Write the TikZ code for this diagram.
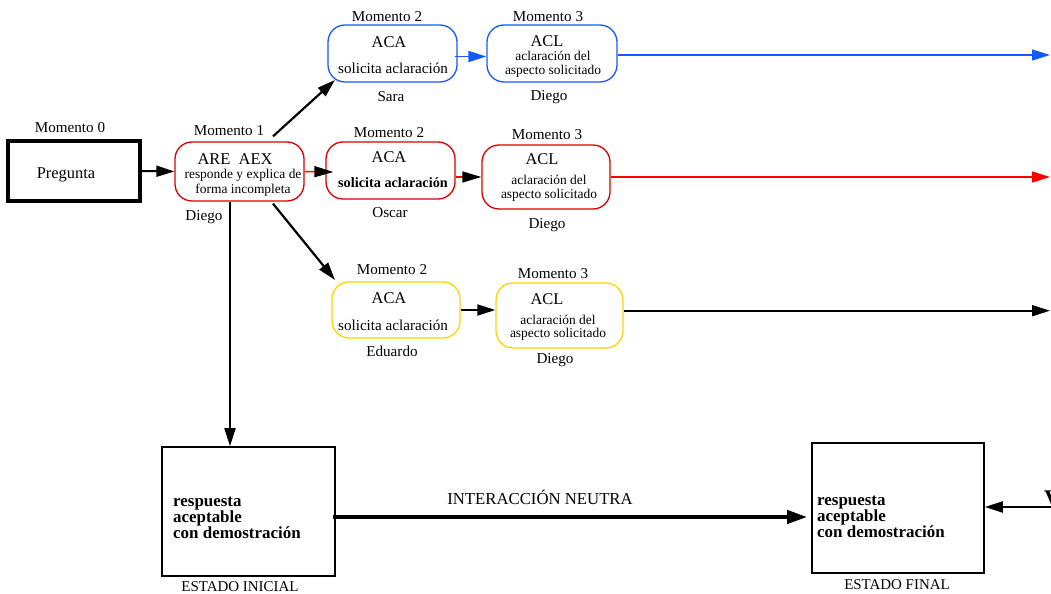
\documentclass[tikz,border=0pt]{standalone}
\usepackage{fontspec}
\setmainfont{Liberation Serif}
\usetikzlibrary{arrows.meta}
\definecolor{cblue}{RGB}{20,90,255}
\definecolor{cred}{RGB}{215,0,0}
\definecolor{lred}{RGB}{255,0,0}
\definecolor{cyel}{RGB}{255,212,0}
\newcommand{\fsz}[1]{\fontsize{#1}{#1}\selectfont}
\tikzset{
  lbl/.style={inner sep=0pt, font=\fsz{15.2}},
  big/.style={inner sep=0pt, font=\fsz{16.5}},
  sml/.style={inner sep=0pt, font=\fsz{13.5}, align=center},
  rbox/.style={draw, rounded corners=17bp, line width=1.3bp, inner sep=0pt},
  sqbox/.style={draw, line width=1.6bp, inner sep=0pt},
  arr/.style={-{Triangle[length=18bp,width=11bp]}},
  bigarr/.style={-{Triangle[length=20bp,width=13bp]}},
  bold/.style={inner sep=0pt, font=\fsz{17}\bfseries, align=left},
}
\begin{document}
\begin{tikzpicture}[x=1bp,y=-1bp]
\useasboundingbox (0,0) rectangle (1051,594);

% Momento 0 / 1
\node[sqbox, line width=3.5bp, minimum width=132bp, minimum height=60bp] (preg) at (74,171) {};
\node[big] (tpreg) at (66,175) {Pregunta};
\node[lbl] (m0) at (70,128) {Momento 0};

\node[rbox, draw=cred, minimum width=129bp, minimum height=59bp] (are) at (239.5,171.5) {};
\node[lbl] (m1) at (229,131) {Momento 1};
\node[big] (tare) at (235,159) {ARE\ \ AEX};
\node[sml] (tare2) at (243,182.5) {responde y explica de\\[1.5bp]forma incompleta};
\node[lbl] (d1) at (204,217) {Diego};

% blue row
\node[rbox, draw=cblue, minimum width=129bp, minimum height=57bp] (sara) at (392.5,53.5) {};
\node[rbox, draw=cblue, minimum width=130bp, minimum height=57bp] (acl1) at (552,53.5) {};
\node[lbl] (m2a) at (387,17) {Momento 2};
\node[lbl] (m3a) at (548,17) {Momento 3};
\node[big] (aca1) at (389,42) {ACA};
\node[lbl] (sol1) at (393,68) {solicita aclaración};
\node[lbl] (nsara) at (391,97) {Sara};
\node[big] (tacl1) at (547,41) {ACL};
\node[sml] (asp1) at (553,64) {aclaración del\\[1bp]aspecto solicitado};
\node[lbl] (d2) at (549,97) {Diego};

% red row
\node[rbox, draw=cred, minimum width=129bp, minimum height=57bp] (osc) at (390.5,170.5) {};
\node[rbox, draw=cred, minimum width=128bp, minimum height=64bp] (acl2) at (546,177) {};
\node[lbl] (m2b) at (389,133) {Momento 2};
\node[lbl] (m3b) at (547,135) {Momento 3};
\node[big] (aca2) at (389,157) {ACA};
\node[inner sep=0pt, font=\fsz{14.3}\bfseries] (sol2) at (393,183) {solicita aclaración};
\node[lbl] (nosc) at (390,213) {Oscar};
\node[big] (tacl2) at (542,159) {ACL};
\node[sml] (asp2) at (549,188.5) {aclaración del\\[0.5bp]aspecto solicitado};
\node[lbl] (d3) at (547,225) {Diego};

% yellow row
\node[rbox, draw=cyel, minimum width=128bp, minimum height=56bp] (edu) at (396,310) {};
\node[rbox, draw=cyel, minimum width=127bp, minimum height=65bp] (acl3) at (559.5,315.5) {};
\node[lbl] (m2c) at (392,270) {Momento 2};
\node[lbl] (m3c) at (553,274) {Momento 3};
\node[big] (aca3) at (389,298) {ACA};
\node[lbl] (sol3) at (393,325) {solicita aclaración};
\node[lbl] (nedu) at (392,351) {Eduardo};
\node[big] (tacl3) at (547,299) {ACL};
\node[sml] (asp3) at (558,327.5) {aclaración del\\[0bp]aspecto solicitado};
\node[lbl] (d4) at (555,360) {Diego};

% states
\node[sqbox, minimum width=173bp, minimum height=129bp] (ini) at (248.5,511.5) {};
\node[bold, anchor=west] (tini) at (173,518) {respuesta\\[-1bp]aceptable\\[-1bp]con demostración};
\node[inner sep=0pt, font=\fsz{15}] (eini) at (240,587) {ESTADO INICIAL};
\node[sqbox, minimum width=172bp, minimum height=130bp] (fin) at (898,508) {};
\node[bold, anchor=west] (tfin) at (817,517) {respuesta\\[-1bp]aceptable\\[-1bp]con demostración};
\node[inner sep=0pt, font=\fsz{15}] (efin) at (897,585) {ESTADO FINAL};
\node[inner sep=0pt, font=\fsz{16.8}] (neu) at (540,497) {INTERACCIÓN NEUTRA};
\node[inner sep=0pt, anchor=base west, font=\fsz{24}\bfseries] (vv) at (1044,506) {V};

% connectors
\draw[arr, line width=2bp] (preg.east) -- (are.west);
\draw[arr, line width=2.2bp] ([shift={(33.5,-5)}]are.north) -- ([shift={(-57.5,26.5)}]sara.center);
\draw[arr, line width=2.2bp] ([shift={(33.5,2)}]are.south) -- ([shift={(-61,-30)}]edu.center);
\draw[-{Triangle[length=19bp,width=11bp,color=black]}, lred, line width=1.5bp] (are.east) -- ([shift={(8,1.5)}]osc.west);
\draw[-{Triangle[length=19bp,width=11bp,color=black]}, lred, line width=1.5bp] (osc.east |- acl2.west) -- (acl2.west);
\draw[arr, cblue, line width=1.8bp] ([shift={(-3,3)}]sara.east) -- ([shift={(0,3)}]acl1.west);
\draw[arr, line width=1.8bp] (edu.east) -- (edu.east -| acl3.west);

\coordinate (e1) at (1050,55);
\coordinate (e2) at (1050,177);
\coordinate (e3) at (1050,310.7);
\coordinate (e4) at (1051,507);
\draw[arr, cblue, line width=1.5bp] (e1 -| acl1.east) -- (e1);
\draw[arr, lred, line width=1.5bp] (acl2.east) -- (e2);
\draw[arr, line width=1.8bp] (e3 -| acl3.east) -- (e3);
\draw[arr, line width=2bp] (e4) -- (e4 -| fin.east);

\coordinate (vs) at ([shift={(-9.5,0)}]are.south);
\draw[arr, line width=1.8bp] (vs) -- (vs |- ini.north);
\coordinate (ia) at ([shift={(-3,5.5)}]ini.east);
\draw[bigarr, line width=4bp] (ia) -- ([shift={(-4,0)}]ia -| fin.west);
\end{tikzpicture}
\end{document}
